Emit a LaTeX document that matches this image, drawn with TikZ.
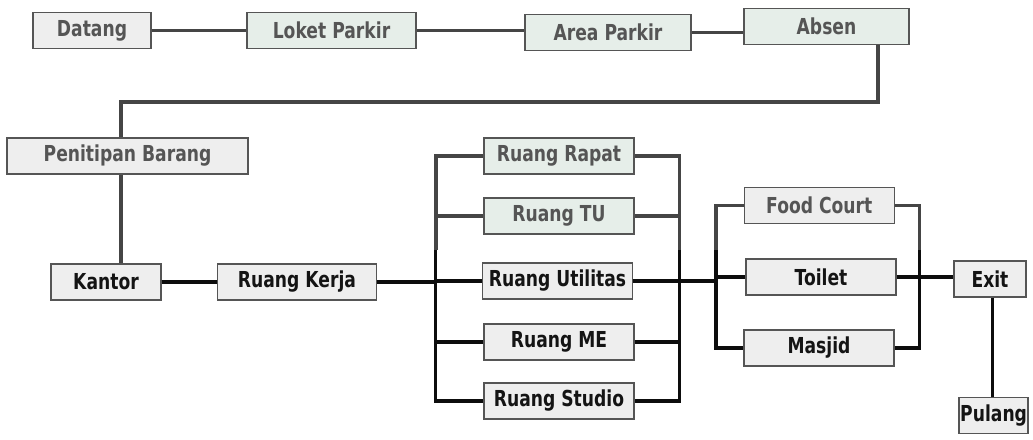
\documentclass[tikz,border=0pt]{standalone}
\usepackage{fontspec}
\setmainfont{DejaVu Sans}[FakeStretch=0.78]
\definecolor{boxfill}{HTML}{EEEEEE}
\definecolor{fadefill}{HTML}{E6EEE9}
\definecolor{boxdraw}{HTML}{555555}
\definecolor{fadetext}{HTML}{555555}
\definecolor{fadeline}{HTML}{454545}
\begin{document}
\begin{tikzpicture}[x=1pt,y=-1pt,
  box/.style={draw=boxdraw, line width=1.4pt, fill=boxfill, minimum height=36pt,
    inner sep=0pt, anchor=center, text=black!92,
    font=\fontsize{22}{26}\selectfont\bfseries},
  fbox/.style={box, fill=fadefill, text=fadetext},
  gbox/.style={box, text=fadetext},
  ln/.style={line width=3.4pt, draw=black!95},
  gl/.style={line width=3.6pt, draw=fadeline}]
\useasboundingbox (0,0) rectangle (1033,439);
% top row
\node[gbox, minimum width=118pt] (datang) at (92,30.5) {Datang};
\node[fbox, minimum width=169pt] (loket) at (331.5,30.5) {Loket Parkir};
\node[fbox, minimum width=166pt] (area) at (608,32.5) {Area Parkir};
\node[fbox, minimum width=165pt] (absen) at (826.5,26.3) {Absen};
\node[gbox, minimum width=241pt] (penitipan) at (127.5,156) {Penitipan Barang};
% main row
\node[box, minimum width=110pt] (kantor) at (106,282) {Kantor};
\node[box, minimum width=159pt] (kerja) at (297,282) {Ruang Kerja};
\node[fbox, minimum width=150pt] (rapat) at (559,156) {Ruang Rapat};
\node[fbox, minimum width=150pt] (tu) at (559,216) {Ruang TU};
\node[box, minimum width=150pt] (utilitas) at (557.5,281) {Ruang Utilitas};
\node[box, minimum width=150pt] (me) at (559,342) {Ruang ME};
\node[box, minimum width=150pt] (studio) at (559,401) {Ruang Studio};
\node[gbox, minimum width=150pt] (food) at (819.3,205.3) {Food Court};
\node[box, minimum width=150pt] (toilet) at (821,277) {Toilet};
\node[box, minimum width=150pt] (masjid) at (819,348) {Masjid};
\node[box, minimum width=72pt] (exit) at (990,279) {Exit};
\node[box, minimum width=69pt] (pulang) at (993.6,415.3) {Pulang};
% coordinates
\coordinate (t1) at (878,102);
\coordinate (t2) at (120.7,102);
\coordinate (L1) at (435.7,0);
\coordinate (R1) at (679.3,0);
\coordinate (L2) at (716,0);
\coordinate (R2) at (919.3,0);
\coordinate (gb) at (0,250);
\coordinate (ex) at (992.3,0);
% top connectors
\draw[gl] (datang.east) -- (loket.west);
\draw[gl] (loket.east) -- (area.west |- loket.east);
\draw[gl] (area.east) -- (absen.west |- area.east);
\draw[gl] (absen.south -| t1) -- (t1) -- (t2) -- (t2 |- penitipan.north);
\draw[gl] (penitipan.south -| t2) -- (kantor.north -| t2);
% main row
\draw[ln] (kantor.east) -- (kerja.west);
\draw[ln] (kerja.east) -- (L1 |- kerja.east);
\draw[ln] (L1 |- utilitas.west) -- (utilitas.west);
% left bus 1
\draw[gl] (rapat.west) -| (L1 |- gb);
\draw[gl] (tu.west) -- (L1 |- tu.west);
\draw[ln] (L1 |- gb) |- (studio.west);
\draw[ln] (me.west) -- (L1 |- me.west);
% right bus 1
\draw[gl] (rapat.east) -| (R1 |- gb);
\draw[gl] (tu.east) -- (R1 |- tu.east);
\draw[ln] (R1 |- gb) |- (studio.east);
\draw[ln] (me.east) -- (R1 |- me.east);
\draw[ln] (utilitas.east) -- (L2 |- utilitas.east);
% bus 2
\draw[ln] (L2 |- toilet.west) -- (toilet.west);
\draw[gl] (food.west) -| (L2 |- gb);
\draw[ln] (L2 |- gb) |- (masjid.west);
\draw[gl] (food.east) -| (R2 |- gb);
\draw[ln] (R2 |- gb) |- (masjid.east);
\draw[ln] (toilet.east) -- (exit.west |- toilet.east);
\draw[ln] (exit.south -| ex) -- (pulang.north -| ex);
\end{tikzpicture}
\end{document}
